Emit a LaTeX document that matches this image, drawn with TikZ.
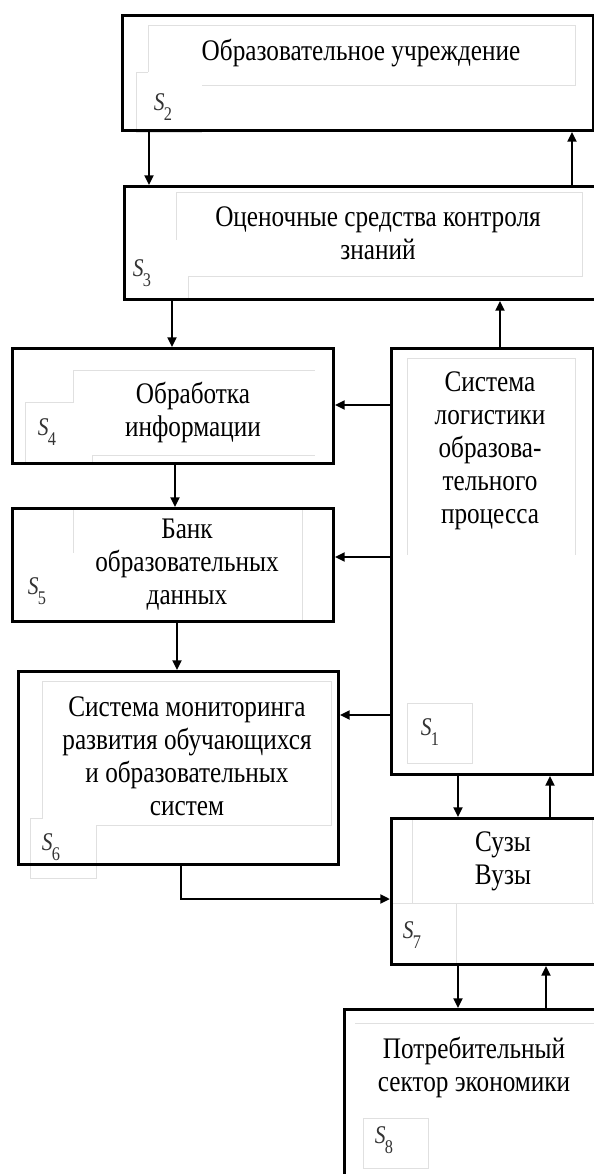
\documentclass[tikz,border=0pt]{standalone}
\usepackage{fontspec}
\setmainfont{Liberation Serif}[FakeStretch=0.845]
\usetikzlibrary{arrows.meta}

\newcommand{\slab}[1]{\textit{S}\kern-0.5pt\raisebox{-0.8ex}{\fontsize{11}{11}\selectfont #1}}

\begin{document}
\begin{tikzpicture}[
    x=0.02cm, y=-0.02cm,
    >={Triangle[length=5.5pt,width=5pt]},
    box/.style={
        draw,
        line width=1.7pt,
        anchor=north west,
        inner sep=0pt
    },
    txt/.style={align=center, font=\fontsize{17}{18.8}\selectfont},
    lbl/.style={font=\fontsize{14.5}{14.5}\selectfont, text=black!80, inner sep=0pt},
    frm/.style={draw=black!12, line width=0.5pt},
    arr/.style={->, line width=1.5pt}
]
    \useasboundingbox (0,0) rectangle (593,1174);

    % faint text frames
    \draw[frm] (148,72) -- (148,25) -- (575,25) -- (575,85) -- (202,85);
    \draw[frm] (148,72) -- (136,72) -- (136,132) -- (202,132);
    \draw[frm] (176,240) -- (176,192) -- (582,192) -- (582,276) -- (188,276) -- (188,300);
    \draw[frm] (315,370) -- (73,370) -- (73,402) -- (25,402) -- (25,462);
    \draw[frm] (92,462) -- (92,455) -- (315,455);
    \draw[frm] (73,553) -- (73,509) -- (302,509) -- (302,620);
    \draw[frm] (407,555) -- (407,358) -- (575,358) -- (575,555);
    \draw[frm] (407,703) rectangle (472,763);
    \draw[frm] (42,818) -- (42,681) -- (331,681) -- (331,825) -- (96,825)
        -- (96,878) -- (30,878) -- (30,818) -- cycle;
    \draw[frm] (412,818) -- (412,903);
    \draw[frm] (592,818) -- (592,903);
    \draw[frm] (390,903) -- (595,903);
    \draw[frm] (456,903) -- (456,963);
    \draw[frm] (355,1023) -- (595,1023);
    \draw[frm] (363,1118) rectangle (428,1168);

    % blocks
    \node[box, minimum width=9.42cm, minimum height=2.30cm] (s2) at (121,14) {};
    \node[box, minimum width=9.60cm, minimum height=2.26cm] (s3) at (123,185) {};
    \node[box, minimum width=6.42cm, minimum height=2.30cm] (s4) at (11,347) {};
    \node[box, minimum width=6.42cm, minimum height=2.26cm] (s5) at (11,507) {};
    \node[box, minimum width=6.40cm, minimum height=3.86cm] (s6) at (17,670) {};
    \node[box, minimum width=4.04cm, minimum height=8.52cm] (s1) at (390,347) {};
    \node[box, minimum width=4.40cm, minimum height=2.92cm] (s7) at (390,817) {};
    \node[box, minimum width=5.40cm, minimum height=4.00cm] (s8) at (343,1008) {};

    % texts
    \node[txt] (t2) at (361,53) {Образовательное учреждение};
    \node[txt] (t3) at (378,233) {Оценочные средства контроля\\знаний};
    \node[txt] (t4) at (193,412) {Обработка\\информации};
    \node[txt] (t5) at (187,565) {Банк\\образовательных\\данных};
    \node[txt] (t1) at (490,451) {Система\\логистики\\образова-\\тельного\\процесса};
    \node[txt] (t6) at (187,756) {Система мониторинга\\развития обучающихся\\и образовательных\\систем};
    \node[txt] (t7) at (503,861) {Сузы\\Вузы};
    \node[txt] (t8) at (474,1067) {Потребительный\\сектор экономики};

    % labels
    \node[lbl] (l2) at (163,107) {\slab{2}};
    \node[lbl] (l3) at (142,273) {\slab{3}};
    \node[lbl] (l4) at (47,432) {\slab{4}};
    \node[lbl] (l5) at (37,591) {\slab{5}};
    \node[lbl] (l6) at (51,847) {\slab{6}};
    \node[lbl] (l1) at (430,732) {\slab{1}};
    \node[lbl] (l7) at (412,935) {\slab{7}};
    \node[lbl] (l8) at (384,1140) {\slab{8}};

    % links
    \draw[arr] (s2.south -| 149,0) -- (s3.north -| 149,0);
    \draw[arr] (s3.north -| 572,0) -- (s2.south -| 572,0);
    \draw[arr] (s3.south -| 172,0) -- (s4.north -| 172,0);
    \draw[arr] (s1.north -| 500,0) -- (s3.south -| 500,0);
    \draw[arr] (s1.west |- 0,405) -- (s4.east |- 0,405);
    \draw[arr] (s4.south -| 175,0) -- (s5.north -| 175,0);
    \draw[arr] (s1.west |- 0,557) -- (s5.east |- 0,557);
    \draw[arr] (s5.south -| 177,0) -- (s6.north -| 177,0);
    \draw[arr] (s1.west |- 0,715) -- (s6.east |- 0,715);
    \draw[arr] (s1.south -| 458,0) -- (s7.north -| 458,0);
    \draw[arr] (s7.north -| 550,0) -- (s1.south -| 550,0);
    \draw[arr] (s6.south -| 181,0) |- (s7.west |- 0,899);
    \draw[arr] (s7.south -| 458,0) -- (s8.north -| 458,0);
    \draw[arr] (s8.north -| 546,0) -- (s7.south -| 546,0);
\end{tikzpicture}
\end{document}
